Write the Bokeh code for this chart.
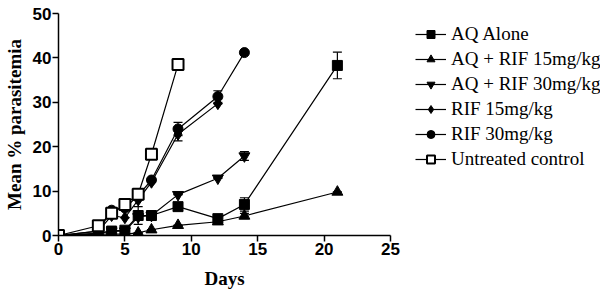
from bokeh.plotting import figure
from bokeh.models import ColumnDataSource, Whisker, TeeHead, Legend, LegendItem, Range1d, FixedTicker
from bokeh.embed import file_html
from bokeh.resources import INLINE

# ---- data ----
aq_days = [0, 3, 4, 5, 6, 7, 9, 12, 14, 21]
aq_vals = [0, 0.5, 1.0, 1.2, 4.5, 4.5, 6.5, 3.8, 7.0, 38.3]
aq_err = [0, 0, 0, 0, 2.0, 0, 0, 0.4, 1.5, 3.0]

aqr15_days = [0, 3, 4, 5, 6, 7, 9, 12, 14, 21]
aqr15_vals = [0, 0.3, 0.3, 0.3, 0.6, 1.3, 2.3, 3.1, 4.4, 9.8]
aqr15_err = [0, 0, 0, 0, 0, 0, 0, 0, 0.6, 0]

aqr30_days = [0, 3, 4, 5, 6, 7, 9, 12, 14]
aqr30_vals = [0, 0.5, 1.0, 1.0, 4.2, 4.5, 9.2, 12.9, 17.9]
aqr30_err = [0, 0, 0, 0, 0, 0, 0, 0, 1.0]

rif15_days = [0, 3, 4, 5, 6, 7, 9, 12]
rif15_vals = [0, 1.0, 4.5, 4.0, 8.0, 12.0, 22.8, 29.7]
rif15_err = [0, 0, 0, 0, 0, 0, 1.5, 0]

rif30_days = [0, 3, 4, 5, 6, 7, 9, 12, 14]
rif30_vals = [0, 1.0, 5.7, 6.2, 9.0, 12.5, 24.0, 31.3, 41.2]
rif30_err = [0, 0, 0, 0, 0, 0, 1.5, 1.3, 0]

ctrl_days = [0, 3, 4, 5, 6, 7, 9]
ctrl_vals = [0, 2.2, 5.0, 7.0, 9.3, 18.3, 38.5]
ctrl_err = [0, 0, 0, 0, 0, 0, 0]

series_names = ["AQ Alone", "AQ + RIF 15mg/kg", "AQ + RIF 30mg/kg",
                "RIF 15mg/kg", "RIF 30mg/kg", "Untreated control"]
x_ticks = [0, 5, 10, 15, 20, 25]
y_ticks = [0, 10, 20, 30, 40, 50]

p = figure(frame_width=332, frame_height=222, output_backend="svg", toolbar_location=None,
           x_range=Range1d(0, 25), y_range=Range1d(0, 50),
           min_border_left=53, min_border_right=5, min_border_top=13,
           min_border_bottom=40)
p.outline_line_color = None
p.xgrid.grid_line_color = None
p.ygrid.grid_line_color = None
p.background_fill_color = "white"
p.border_fill_color = "white"

for ax in (p.xaxis[0], p.yaxis[0]):
    ax.minor_tick_line_color = None
    ax.major_tick_in = 0
    ax.major_tick_out = 6
    ax.major_label_standoff = 1
    ax.axis_line_width = 1.5
    ax.major_tick_line_width = 1.5
    ax.axis_line_color = "black"
    ax.major_tick_line_color = "black"
    ax.major_label_text_font = "Liberation Sans"
    ax.major_label_text_font_style = "bold"
    ax.major_label_text_font_size = "17px"
    ax.major_label_text_color = "black"
    ax.axis_label_text_font = "Liberation Serif"
    ax.axis_label_text_font_style = "bold"
    ax.axis_label_text_font_size = "19px"
    ax.axis_label_text_color = "black"

p.xaxis[0].ticker = FixedTicker(ticks=x_ticks)
p.yaxis[0].ticker = FixedTicker(ticks=y_ticks)
p.xaxis[0].axis_label = "Days"
p.yaxis[0].axis_label = "Mean % parasitemia"
p.xaxis[0].axis_label_standoff = 10
p.yaxis[0].axis_label_standoff = 5

specs = [
    (aq_days, aq_vals, aq_err, "square", 10, "black", 1),
    (aqr15_days, aqr15_vals, aqr15_err, "triangle", 11, "black", 1),
    (aqr30_days, aqr30_vals, aqr30_err, "inverted_triangle", 11, "black", 1),
    (rif15_days, rif15_vals, rif15_err, "diamond", 12, "black", 1),
    (rif30_days, rif30_vals, rif30_err, "circle", 10, "black", 1),
    (ctrl_days, ctrl_vals, ctrl_err, "square", 11, "white", 2),
]

items = []
for (d, v, e, marker, size, fill, lw), name in zip(specs, series_names):
    up = [a + b for a, b in zip(v, e)]
    lo = [a - b for a, b in zip(v, e)]
    src = ColumnDataSource(dict(x=d, y=v, up=up, lo=lo))
    ln = p.line("x", "y", source=src, line_color="black", line_width=1.2)
    w = Whisker(source=src, base="x", upper="up", lower="lo",
                line_color="black", line_width=1.2,
                upper_head=TeeHead(size=9, line_color="black", line_width=1.2),
                lower_head=TeeHead(size=9, line_color="black", line_width=1.2))
    p.add_layout(w)
    sc = p.scatter("x", "y", source=src, marker=marker, size=size,
                   fill_color=fill, line_color="black", line_width=lw)
    items.append(LegendItem(label=name, renderers=[ln, sc]))

legend = Legend(items=items, location=(25, 65), orientation="vertical",
                border_line_color=None, background_fill_alpha=0,
                label_text_font="Liberation Serif", label_text_font_size="19px",
                label_text_color="black",
                glyph_width=31, glyph_height=20, spacing=3, padding=0,
                margin=0, label_standoff=5, label_height=20)
p.add_layout(legend, "right")

open("out.html", "w").write(file_html(p, INLINE))
